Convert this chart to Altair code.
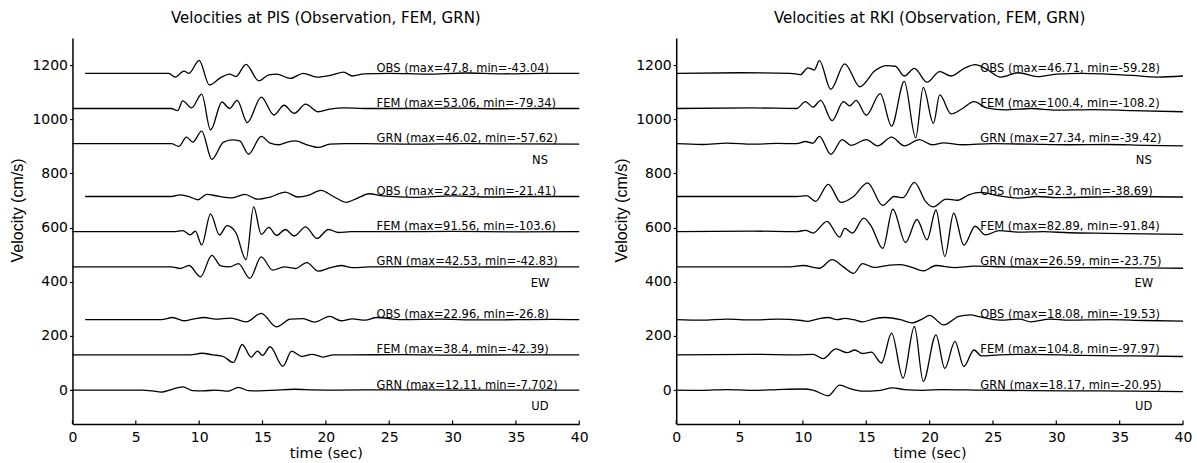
import altair as alt
import pandas as pd

# ---------------- tick values ----------------
X_TICKS = [0, 5, 10, 15, 20, 25, 30, 35, 40]
Y_TICKS = [0, 200, 400, 600, 800, 1000, 1200]

# trace base offsets (cm/s)
OFFSETS = {"NS": {"OBS": 1170, "FEM": 1040, "GRN": 910},
           "EW": {"OBS": 715, "FEM": 585, "GRN": 455},
           "UD": {"OBS": 260, "FEM": 130, "GRN": 0}}

# ---------------- PIS (left) ----------------
PIS_NS_OBS_T = [1, 7.6, 8.1, 8.8, 9.2, 10.0, 10.8, 11.7, 12.4, 12.9, 13.7, 14.7, 15.5, 16.1, 17.2, 18.2, 19.3, 20.5, 21.4, 22.1, 23.0, 25, 28, 31, 34, 37, 40]
PIS_NS_OBS_V = [0, 0, -14, 8, 0, 47.8, -43.04, -16, -3, -12, 33, -28, -6, -3, -19, 0, -14, -6, 4, -10, -2, 0, -3, 1, -2, 0, 0]
PIS_NS_FEM_T = [0, 7.8, 8.3, 8.7, 9.4, 10.2, 10.9, 11.8, 12.4, 13.0, 13.8, 14.9, 15.9, 16.7, 17.5, 18.4, 19.4, 20.3, 21.5, 23, 26, 30, 34, 37, 40]
PIS_NS_FEM_V = [0, 0, -8, 28, 2, 53.06, -79.34, 24, 0, 30, -52, 42, -24, 12, -18, 16, -12, -2, 2, 0, 0, 1, -1, 0, 0]
PIS_NS_GRN_T = [0, 7.8, 8.4, 9.0, 9.5, 10.2, 11.0, 11.9, 12.6, 13.2, 13.9, 14.9, 15.6, 16.3, 16.9, 17.6, 18.5, 19.4, 20.3, 21.5, 23, 27, 31, 35, 40]
PIS_NS_GRN_V = [0, 0, -10, 24, 6, 46.02, -57.62, 5, 14, 10, -39, 27, 2, -4, 5, 10, -4, -14, -2, 0, 0, -2, 0, -1, -2]
PIS_EW_OBS_T = [1, 7.8, 8.5, 9.3, 9.9, 10.6, 11.6, 12.6, 13.6, 14.6, 15.6, 16.8, 17.8, 18.6, 19.6, 20.6, 21.6, 22.5, 23.4, 24.5, 27, 30, 33, 36, 40]
PIS_EW_OBS_V = [0, 0, 6, -2, -12, 8, 0, -5, 8, -10, -2, 16, -2, 4, 22.23, 0, -21.41, -6, 10, 2, -3, 2, -2, 0, 0]
PIS_EW_FEM_T = [0, 8.0, 8.7, 9.3, 9.7, 10.2, 10.9, 11.6, 12.2, 12.9, 13.7, 14.3, 14.9, 15.5, 16.1, 16.8, 17.5, 18.4, 19.3, 20.2, 21.0, 22, 25, 30, 35, 40]
PIS_EW_FEM_V = [0, 0, 4, -12, 2, -49, 66, -12, 22, -4, -103.6, 91.56, -10, 16, -14, 8, -16, 18, -25, 8, -3, 0, 0, 1, -1, 0]
PIS_EW_GRN_T = [0, 7.8, 8.5, 9.2, 10.1, 11.0, 11.7, 12.4, 13.1, 14.0, 14.9, 15.8, 16.7, 17.6, 18.5, 19.4, 20.3, 21.2, 22.1, 23.4, 27, 31, 35, 40]
PIS_EW_GRN_V = [0, 0, -6, 5, -37, 42.53, 4, 0, 12, -42.83, 37, -12, 0, -6, 16, -16, -4, 5, -3, 0, 1, -1, 0, 0]
PIS_UD_OBS_T = [1, 7.0, 7.9, 8.8, 9.5, 10.4, 11.3, 12.5, 13.7, 14.9, 16.1, 17.2, 18.2, 19.1, 20.3, 21.2, 22.1, 23.1, 24.0, 26, 29, 32, 35, 38, 40]
PIS_UD_OBS_V = [0, 0, 8, -4, 2, 8, 2, 6, -8, 22.96, -26.8, 2, 4, -9, 12, -4, 3, -2, 8, 0, 2, -1, 0, 1, 0]
PIS_UD_FEM_T = [0, 9.3, 10.2, 11.1, 11.9, 12.7, 13.4, 14.1, 14.6, 15.0, 15.6, 16.6, 17.3, 18.1, 18.9, 19.8, 20.6, 22, 26, 30, 35, 40]
PIS_UD_FEM_V = [0, 0, 6, 0, -6, -28, 38.4, -8, 14, -2, 30, -42.39, 14, -6, 2, -8, 0, 0, 1, -1, 0, 0]
PIS_UD_GRN_T = [0, 5.5, 6.3, 7.0, 7.8, 8.7, 9.5, 10.3, 11.3, 12.3, 13.1, 13.9, 14.8, 16, 17.5, 19, 21, 25, 30, 35, 40]
PIS_UD_GRN_V = [0, 0, -3, -7.702, 2, 12.11, -2, -3, 0, -4, 10, -2, -3, 0, 3, 1, 0, 1, 0, 0, 0]

# ---------------- RKI (right) ----------------
RKI_NS_OBS_T = [0, 5, 9.0, 9.8, 10.4, 10.9, 11.3, 12.2, 13.3, 14.5, 15.7, 16.6, 17.3, 18.0, 18.8, 19.8, 20.8, 21.7, 22.8, 23.6, 24.5, 25.6, 27.0, 28.5, 30.0, 32, 34, 36, 38, 40]
RKI_NS_OBS_V = [0, 2, 0, -5, 20, 12, 46.71, -59.28, 35, -50, 10, 28, 26, -10, 18, -33, 6, -10, 20, 32, 15, -14, 2, -12, -3, 0, -3, -8, -14, -10]
RKI_NS_FEM_T = [0, 6, 9.5, 10.2, 10.8, 11.4, 12.3, 13.2, 13.7, 14.2, 15.0, 16.1, 17.0, 18.0, 18.9, 19.5, 20.3, 20.8, 21.7, 22.6, 23.5, 24.5, 26, 28, 30, 33, 36, 40]
RKI_NS_FEM_V = [0, 2, 0, 25, 5, 30, -45, 25, 10, 30, -25, 55, -65, 100.4, -108.2, 78, -55, 50, -20, 0, 25, 2, -5, 0, -6, -4, -8, -12]
RKI_NS_GRN_T = [0, 2, 4, 6, 8, 9.5, 10.2, 10.8, 11.3, 12.2, 13.1, 13.8, 15.0, 15.9, 17.0, 18.0, 19.2, 20.2, 21.1, 22.6, 25, 28, 31, 34, 37, 40]
RKI_NS_GRN_V = [0, -3, 2, -2, 1, 0, 8, 2, 27.34, -39.42, 15, -6, 15, -8, 24, -8, 15, -4, 3, -4, 0, -2, -4, -3, -6, -8]
RKI_EW_OBS_T = [0, 6, 9.5, 10.3, 11.0, 12.0, 13.0, 14.0, 15.1, 16.3, 17.2, 17.9, 18.8, 19.7, 20.3, 21.3, 22.2, 23.1, 24.0, 25.5, 27, 28.5, 30, 33, 36, 40]
RKI_EW_OBS_V = [0, 0, 0, 3, -18, 45, -22, 0, 50, -33, 0, -4, 52.3, -20, -38.69, -10, -14, 6, 15, 2, -6, 0, -4, -2, 0, -2]
RKI_EW_FEM_T = [0, 6, 9.5, 10.2, 10.8, 11.9, 12.9, 13.3, 13.9, 14.8, 15.4, 16.3, 17.1, 18.1, 19.0, 19.8, 20.5, 21.2, 21.9, 22.7, 23.6, 24.4, 25.5, 27, 29, 31, 34, 37, 40]
RKI_EW_FEM_V = [0, 2, 0, 5, -5, 38, -20, 12, -5, 50, 20, -62, 82.89, -40, 45, -30, 80, -91.84, 68, -50, 20, -12, 4, -2, 0, -4, -6, -8, -10]
RKI_EW_GRN_T = [0, 6, 9.0, 10.0, 11.3, 12.3, 13.2, 14.0, 14.7, 15.6, 16.5, 17.7, 18.6, 19.5, 20.5, 22.0, 23.5, 26, 30, 34, 37, 40]
RKI_EW_GRN_V = [0, 0, 0, 5, -5, 26.59, 0, -23.75, 12, -2, 4, 8, -2, -15, 5, -3, 3, 0, -2, -3, -4, -5]
RKI_UD_OBS_T = [0, 2, 4, 6, 8, 9.9, 10.4, 11.2, 12.0, 12.7, 13.3, 14.0, 14.7, 15.6, 16.5, 17.7, 18.6, 19.4, 20.0, 21.1, 22.3, 23.2, 24.0, 25.6, 27.1, 28.0, 29.5, 31, 34, 37, 40]
RKI_UD_OBS_V = [0, -2, 2, -1, 2, -3, -6, 3, 8, 0, 5, 0, -8, 3, 8, 0, -12, 2, 16, -19.53, 12, 18.08, 10, -2, 2, -8, 2, -2, 0, -3, -5]
RKI_UD_FEM_T = [0, 6, 9.5, 10.8, 11.6, 12.6, 13.5, 14.1, 14.7, 15.4, 16.2, 17.0, 17.9, 18.8, 19.5, 20.5, 21.2, 22.0, 22.7, 23.5, 24.1, 25.5, 28, 32, 36, 40]
RKI_UD_FEM_V = [0, 2, 0, 2, -14, 22, 8, 18, 5, 10, -30, 80, -86, 104.8, -97.97, 74, -50, 50, -43, 18, -4, 0, 2, -2, -4, -6]
RKI_UD_GRN_T = [0, 2, 4, 6, 8, 10.0, 10.8, 12.0, 12.9, 13.8, 14.7, 15.9, 17.1, 18.0, 19.5, 21, 24, 28, 32, 36, 40]
RKI_UD_GRN_V = [0, -1, 2, -1, 2, 4, 0, -20.95, 18.17, 4, -4, -2, 8, 2, -1, 2, 0, -2, -3, -4, -6]

# ---------------- annotations ----------------
PIS_LABELS = {
    ("NS", "OBS"): "OBS (max=47.8, min=-43.04)",
    ("NS", "FEM"): "FEM (max=53.06, min=-79.34)",
    ("NS", "GRN"): "GRN (max=46.02, min=-57.62)",
    ("EW", "OBS"): "OBS (max=22.23, min=-21.41)",
    ("EW", "FEM"): "FEM (max=91.56, min=-103.6)",
    ("EW", "GRN"): "GRN (max=42.53, min=-42.83)",
    ("UD", "OBS"): "OBS (max=22.96, min=-26.8)",
    ("UD", "FEM"): "FEM (max=38.4, min=-42.39)",
    ("UD", "GRN"): "GRN (max=12.11, min=-7.702)",
}
RKI_LABELS = {
    ("NS", "OBS"): "OBS (max=46.71, min=-59.28)",
    ("NS", "FEM"): "FEM (max=100.4, min=-108.2)",
    ("NS", "GRN"): "GRN (max=27.34, min=-39.42)",
    ("EW", "OBS"): "OBS (max=52.3, min=-38.69)",
    ("EW", "FEM"): "FEM (max=82.89, min=-91.84)",
    ("EW", "GRN"): "GRN (max=26.59, min=-23.75)",
    ("UD", "OBS"): "OBS (max=18.08, min=-19.53)",
    ("UD", "FEM"): "FEM (max=104.8, min=-97.97)",
    ("UD", "GRN"): "GRN (max=18.17, min=-20.95)",
}
LABEL_T = 24.0
COMPONENTS = ["NS", "EW", "UD"]
COMPONENT_V = [847, 392, -63]
COMPONENT_T = 36.9

DATA = {"PIS": {}, "RKI": {}}
g = globals()
for st in ["PIS", "RKI"]:
    for comp in COMPONENTS:
        for kind in ["OBS", "FEM", "GRN"]:
            DATA[st][(comp, kind)] = (g[f"{st}_{comp}_{kind}_T"], g[f"{st}_{comp}_{kind}_V"])

FONT = "DejaVu Sans"


def panel(st, title, labels):
    rows, ann = [], []
    for (comp, kind), (ts, vs) in DATA[st].items():
        off = OFFSETS[comp][kind]
        for t, v in zip(ts, vs):
            rows.append({"trace": f"{comp}-{kind}", "t": t, "v": off + v})
        ann.append({"t": LABEL_T, "v": off, "text": labels[(comp, kind)]})
    df = pd.DataFrame(rows)
    ann_df = pd.DataFrame(ann)
    comp_df = pd.DataFrame({"t": [COMPONENT_T] * 3, "v": COMPONENT_V, "text": COMPONENTS})
    tick_df = pd.DataFrame({"t": X_TICKS})

    xs = alt.Scale(domain=[0, 40], nice=False, zero=False)
    ys = alt.Scale(domain=[-125, 1300], nice=False, zero=False)

    xaxis = alt.Axis(values=X_TICKS, format="d", title="time (sec)", grid=False, tickSize=0,
                     labelFont=FONT, labelFontSize=14, labelColor="black", labelPadding=7,
                     titleFont=FONT, titleFontSize=14.5, titleFontWeight="normal", titleColor="black",
                     titlePadding=2, domainColor="black", domainWidth=1.5, labelFlush=False)
    yaxis = alt.Axis(values=Y_TICKS, format="d", title="Velocity (cm/s)", grid=False, tickSize=3,
                     tickColor="black", tickWidth=1.2,
                     labelFont=FONT, labelFontSize=14, labelColor="black", labelPadding=2,
                     titleFont="Liberation Sans", titleFontSize=16, titleFontWeight="normal",
                     titleColor="black", titlePadding=6, titleY=172, domainColor="black",
                     domainWidth=1.5, labelFlush=False)

    lines = alt.Chart(df).mark_line(color="black", strokeWidth=1.3, interpolate="monotone").encode(
        x=alt.X("t:Q", scale=xs, axis=xaxis),
        y=alt.Y("v:Q", scale=ys, axis=yaxis),
        detail="trace:N",
    )
    texts = alt.Chart(ann_df).mark_text(align="left", baseline="alphabetic", dy=-1.5,
                                        font=FONT, fontSize=11.5, color="black").encode(
        x=alt.X("t:Q", scale=xs), y=alt.Y("v:Q", scale=ys), text="text:N")
    comps = alt.Chart(comp_df).mark_text(align="center", baseline="middle",
                                         font=FONT, fontSize=11.5, color="black").encode(
        x=alt.X("t:Q", scale=xs), y=alt.Y("v:Q", scale=ys), text="text:N")
    ticks = alt.Chart(tick_df).mark_rule(color="black", strokeWidth=1.2).encode(
        x=alt.X("t:Q", scale=xs), y=alt.datum(-125), y2=alt.datum(-112))

    return alt.layer(lines, texts, comps, ticks).properties(
        width=507, height=386,
        title=alt.TitleParams(title, font=FONT, fontSize=15, fontWeight="normal",
                              color="black", anchor="middle", offset=12),
    )


left = panel("PIS", "Velocities at PIS (Observation, FEM, GRN)", PIS_LABELS)
right = panel("RKI", "Velocities at RKI (Observation, FEM, GRN)", RKI_LABELS)

chart = alt.hconcat(left, right, spacing=25).properties(
    padding={"left": 9.5, "top": 11, "right": 5, "bottom": 0},
    background="white",
).configure_view(stroke=None)

chart.save("out.html", embed_options={"renderer": "svg", "actions": False})
